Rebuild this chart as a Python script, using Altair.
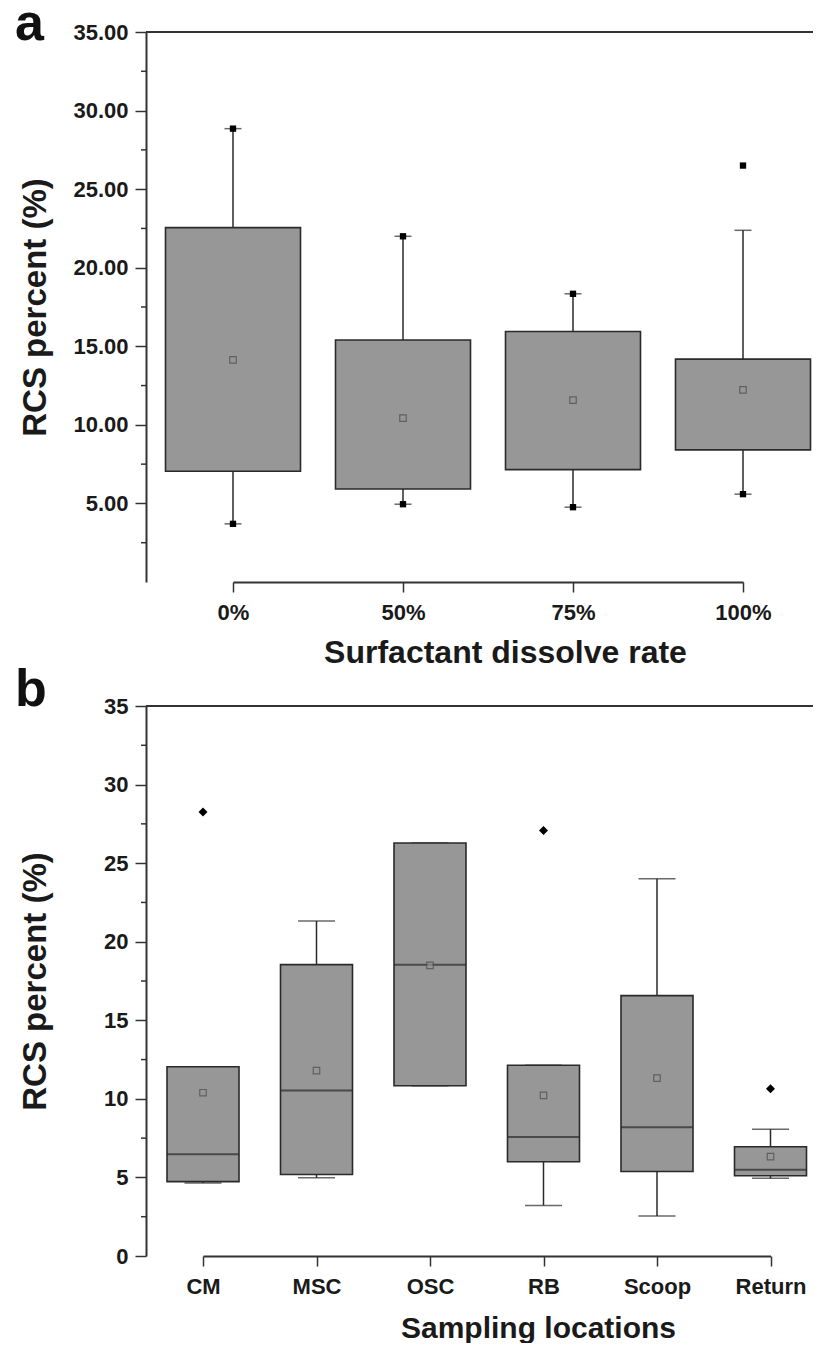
import altair as alt
import pandas as pd

# ---------------- Panel a data ----------------
a_cats = ["0%", "50%", "75%", "100%"]
a_q1 = [7.05, 5.92, 7.15, 8.41]
a_q3 = [22.55, 15.40, 15.94, 14.18]
a_mean = [14.14, 10.43, 11.57, 12.23]
a_lo = [3.70, 4.95, 4.76, 5.59]
a_hi = [28.85, 22.00, 18.34, 22.38]
a_dot_cat = ["0%", "0%", "50%", "50%", "75%", "75%", "100%", "100%"]
a_dot_val = [3.70, 28.85, 4.95, 22.00, 4.76, 18.34, 5.59, 26.50]
a_major = [5, 10, 15, 20, 25, 30, 35]
a_minor = [2.5, 7.5, 12.5, 17.5, 22.5, 27.5, 32.5]

# ---------------- Panel b data ----------------
b_cats = ["CM", "MSC", "OSC", "RB", "Scoop", "Return"]
b_q1 = [4.73, 5.19, 10.83, 6.00, 5.38, 5.11]
b_q3 = [12.04, 18.54, 26.28, 12.14, 16.57, 6.95]
b_med = [6.48, 10.53, 18.54, 7.57, 8.20, 5.49]
b_mean = [10.39, 11.80, 18.50, 10.22, 11.32, 6.32]
b_lo = [4.65, 4.98, 10.83, 3.22, 2.54, 4.94]
b_hi = [12.04, 21.32, 26.28, 12.14, 24.01, 8.07]
b_out_cat = ["CM", "RB", "Return"]
b_out_val = [28.25, 27.08, 10.64]
b_major = [0, 5, 10, 15, 20, 25, 30, 35]
b_minor = [2.5, 7.5, 12.5, 17.5, 22.5, 27.5, 32.5]

FONT = "Liberation Sans"
AXC = "#333333"
BOXFILL = "#979797"
BOXSTROKE = "#2a2a2a"
W = 667
H = 550


def panel(letter, cats, q1, q3, mean, lo, hi, med, dots_cat, dots_val, dot_shape,
          major, minor, fmt, xrange, box_w, cap_w, xtitle, xtitle_x, xtitle_y, xtitle_size):
    df = pd.DataFrame({"cat": cats, "q1": q1, "q3": q3, "mean": mean, "lo": lo, "hi": hi})
    if med is not None:
        df["med"] = med
    ddf = pd.DataFrame({"cat": dots_cat, "v": dots_val})
    mdf = pd.DataFrame({"v": minor})

    yscale = alt.Scale(domain=[0, 35], nice=False, zero=False)
    yaxis = alt.Axis(values=major, format=fmt, title="RCS percent (%)", tickSize=11,
                     labelPadding=7, titleX=-94, titleY=H / 2, titleBaseline="bottom",
                     titleAngle=-90, titleFontSize=33)
    xscale = alt.Scale(type="point", domain=cats, range=xrange, padding=0)
    xaxis = alt.Axis(title=xtitle, labelAngle=0, tickSize=10, labelPadding=10,
                     titleX=xtitle_x, titleY=xtitle_y, titleBaseline="alphabetic",
                     titleFontSize=xtitle_size)
    X = alt.X("cat:N", scale=xscale, axis=xaxis)

    def Y(f):
        return alt.Y(f, type="quantitative", scale=yscale, axis=yaxis)

    base = alt.Chart(df)
    whisk = base.mark_rule(color=BOXSTROKE, strokeWidth=1.5).encode(x=X, y=Y("lo"), y2="hi")
    cap_lo = base.mark_tick(color=BOXSTROKE, size=cap_w, thickness=1.5).encode(x=X, y=Y("lo"))
    cap_hi = base.mark_tick(color=BOXSTROKE, size=cap_w, thickness=1.5).encode(x=X, y=Y("hi"))
    box = base.mark_bar(size=box_w, fill=BOXFILL, stroke=BOXSTROKE, strokeWidth=1.6).encode(
        x=X, y=Y("q1"), y2="q3")
    layers = [whisk, cap_lo, cap_hi, box]
    if med is not None:
        layers.append(base.mark_tick(color=BOXSTROKE, size=box_w, thickness=2).encode(x=X, y=Y("med")))
    layers.append(base.mark_square(size=42, filled=False, stroke="#4a4a4a", strokeWidth=1.2,
                                   fill=BOXFILL).encode(x=X, y=Y("mean")))
    if dot_shape == "square":
        layers.append(alt.Chart(ddf).mark_square(size=40, color="#000000", opacity=1).encode(
            x=X, y=Y("v")))
    else:
        layers.append(alt.Chart(ddf).mark_point(shape="diamond", size=80, filled=True,
                                                color="#000000", opacity=1).encode(x=X, y=Y("v")))
    # minor ticks on the y axis
    layers.append(alt.Chart(mdf).mark_rule(color=AXC, strokeWidth=1.5).encode(
        y=Y("v"), x=alt.value(-5), x2=alt.value(0)))
    # top frame line
    layers.append(alt.Chart(pd.DataFrame({"z": [0]})).mark_rule(color=AXC, strokeWidth=2).encode(
        x=alt.value(0), x2=alt.value(W), y=alt.value(0)))
    # panel letter
    layers.append(alt.Chart(pd.DataFrame({"t": [letter]})).mark_text(
        font=FONT, fontSize=52, fontWeight="bold", align="left", baseline="alphabetic",
        color="#111111").encode(text="t:N", x=alt.value(-131),
                                y=alt.value(8 if letter == "a" else 0)))
    return alt.layer(*layers).properties(width=W, height=H)


pa = panel("a", a_cats, a_q1, a_q3, a_mean, a_lo, a_hi, None, a_dot_cat, a_dot_val, "square",
           a_major, a_minor, ".2f", [87, 597], 135, 17, "Surfactant dissolve rate", 359, 80, 32)
pb = panel("b", b_cats, b_q1, b_q3, b_mean, b_lo, b_hi, b_med, b_out_cat, b_out_val, "diamond",
           b_major, b_minor, "d", [57, 624.5], 72, 37, "Sampling locations", 392, 81, 30)

chart = alt.vconcat(pa, pb, spacing=-4).properties(
    padding={"left": 7, "top": -10, "right": 0, "bottom": 0}
).configure_view(stroke=None).configure_axis(
    grid=False, domainColor=AXC, domainWidth=2, tickColor=AXC, tickWidth=1.5,
    labelFont=FONT, labelFontSize=22, labelFontWeight="bold", labelColor="#1a1a1a",
    titleFont=FONT, titleFontWeight="bold", titleColor="#1a1a1a"
)

chart.save("out.html", embed_options={"renderer": "svg", "actions": False})
